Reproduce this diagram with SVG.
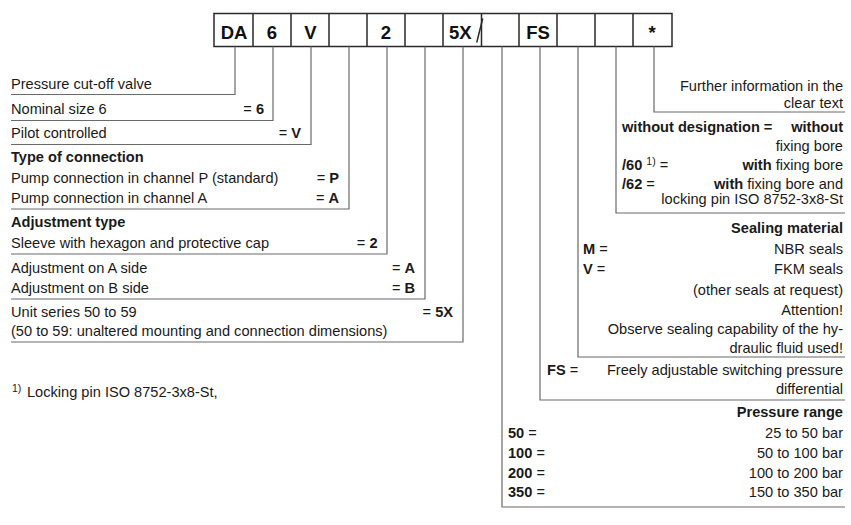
<svg xmlns="http://www.w3.org/2000/svg" width="851" height="525" viewBox="0 0 851 525">
<style>
text{font-family:"Liberation Sans",Arial,sans-serif;font-size:14.6px;fill:#1a1a1a}
.b{font-weight:bold}
.e{text-anchor:end}
.c{text-anchor:middle}
.box{font-size:18.5px;font-weight:bold;fill:#111}
.sup{font-size:10.5px}
.frame{fill:none;stroke:#2a2a2a;stroke-width:1.5}
.div{stroke:#2a2a2a;stroke-width:1.5}
.con{fill:none;stroke:#6a6a6a;stroke-width:1.2}
</style>
<rect width="851" height="525" fill="#fff"/>
<g id="code">
<rect class="frame" x="214" y="13.5" width="458" height="33"/>
<path class="div" d="M253 13.5V46.5M291 13.5V46.5M329 13.5V46.5M367 13.5V46.5M405 13.5V46.5M443 13.5V46.5M481.5 13.5V46.5M519 13.5V46.5M557 13.5V46.5M595 13.5V46.5M633 13.5V46.5"/>
<path class="div" d="M482.7 18.5L476.7 42.5" stroke-width="1.3"/>
<text class="box c" x="234" y="38.5">DA</text>
<text class="box c" x="272" y="38.5">6</text>
<text class="box c" x="310.5" y="38.5">V</text>
<text class="box c" x="386" y="38.5">2</text>
<text class="box" x="449" y="38.5">5X</text>
<text class="box c" x="538" y="38.5">FS</text>
<text class="box c" x="652" y="38.5">*</text>
</g>
<g id="connectors">
<path class="con" d="M235 46.5V94.5H11"/>
<path class="con" d="M273 46.5V120.5H11"/>
<path class="con" d="M311 46.5V144.5H11"/>
<path class="con" d="M349 46.5V209H11"/>
<path class="con" d="M387 46.5V254H11"/>
<path class="con" d="M425 46.5V299H11"/>
<path class="con" d="M463 46.5V342H11"/>
<path class="con" d="M502 46.5V507H845"/>
<path class="con" d="M540 46.5V400H845"/>
<path class="con" d="M578 46.5V357H845"/>
<path class="con" d="M616 46.5V213H845"/>
<path class="con" d="M654 46.5V112H845"/>
</g>
<g id="type">
<text x="11" y="89">Pressure cut-off valve</text>
</g>
<g id="size">
<text x="11" y="113.5">Nominal size 6</text>
<text class="e" x="264" y="113.5">= <tspan class="b">6</tspan></text>
</g>
<g id="pilot">
<text x="11" y="137.5">Pilot controlled</text>
<text class="e" x="301" y="137.5">= <tspan class="b">V</tspan></text>
</g>
<g id="connection">
<text class="b" x="11" y="162">Type of connection</text>
<text x="11" y="183">Pump connection in channel P (standard)</text>
<text class="e" x="339" y="183">= <tspan class="b">P</tspan></text>
<text x="11" y="203">Pump connection in channel A</text>
<text class="e" x="339" y="203">= <tspan class="b">A</tspan></text>
</g>
<g id="adjustment">
<text class="b" x="11" y="227">Adjustment type</text>
<text x="11" y="247.5">Sleeve with hexagon and protective cap</text>
<text class="e" x="377.5" y="247.5">= <tspan class="b">2</tspan></text>
<text x="11" y="273">Adjustment on A side</text>
<text class="e" x="415" y="273">= <tspan class="b">A</tspan></text>
<text x="11" y="292.5">Adjustment on B side</text>
<text class="e" x="415" y="292.5">= <tspan class="b">B</tspan></text>
</g>
<g id="series">
<text x="11" y="317">Unit series 50 to 59</text>
<text class="e" x="453" y="317">= <tspan class="b">5X</tspan></text>
<text x="11" y="336">(50 to 59: unaltered mounting and connection dimensions)</text>
</g>
<g id="footnote">
<text class="sup" x="12" y="391.5">1)</text>
<text x="27" y="397">Locking pin ISO 8752-3x8-St,</text>
</g>
<g id="further">
<text class="e" x="843" y="90.5">Further information in the</text>
<text class="e" x="843" y="108">clear text</text>
</g>
<g id="bore">
<text class="b" x="622" y="131.5">without designation =</text>
<text class="b e" x="843" y="131.5">without</text>
<text class="e" x="843" y="150.5">fixing bore</text>
<text x="622" y="170"><tspan class="b">/60</tspan> <tspan class="sup" dy="-5">1)</tspan><tspan dy="5"> =</tspan></text>
<text class="e" x="843" y="170"><tspan class="b">with</tspan> fixing bore</text>
<text x="622" y="188.5"><tspan class="b">/62</tspan> =</text>
<text class="e" x="843" y="188.5"><tspan class="b">with</tspan> fixing bore and</text>
<text class="e" x="843" y="204">locking pin ISO 8752-3x8-St</text>
</g>
<g id="seals">
<text class="b e" x="843" y="232.5">Sealing material</text>
<text x="583" y="253.5"><tspan class="b">M</tspan> =</text>
<text class="e" x="843" y="253.5">NBR seals</text>
<text x="583" y="273.5"><tspan class="b">V</tspan> =</text>
<text class="e" x="843" y="273.5">FKM seals</text>
<text class="e" x="843" y="295">(other seals at request)</text>
<text class="e" x="843" y="314.5">Attention!</text>
<text class="e" x="843" y="334">Observe sealing capability of the hy-</text>
<text class="e" x="843" y="352.5">draulic fluid used!</text>
</g>
<g id="switching">
<text x="547" y="375"><tspan class="b">FS</tspan> =</text>
<text class="e" x="843" y="375">Freely adjustable switching pressure</text>
<text class="e" x="843" y="393.5">differential</text>
</g>
<g id="pressure">
<text class="b e" x="843" y="417">Pressure range</text>
<text x="508" y="438"><tspan class="b">50</tspan> =</text>
<text class="e" x="843" y="438">25 to 50 bar</text>
<text x="508" y="458"><tspan class="b">100</tspan> =</text>
<text class="e" x="843" y="458">50 to 100 bar</text>
<text x="508" y="477.5"><tspan class="b">200</tspan> =</text>
<text class="e" x="843" y="477.5">100 to 200 bar</text>
<text x="508" y="497"><tspan class="b">350</tspan> =</text>
<text class="e" x="843" y="497">150 to 350 bar</text>
</g>
</svg>
